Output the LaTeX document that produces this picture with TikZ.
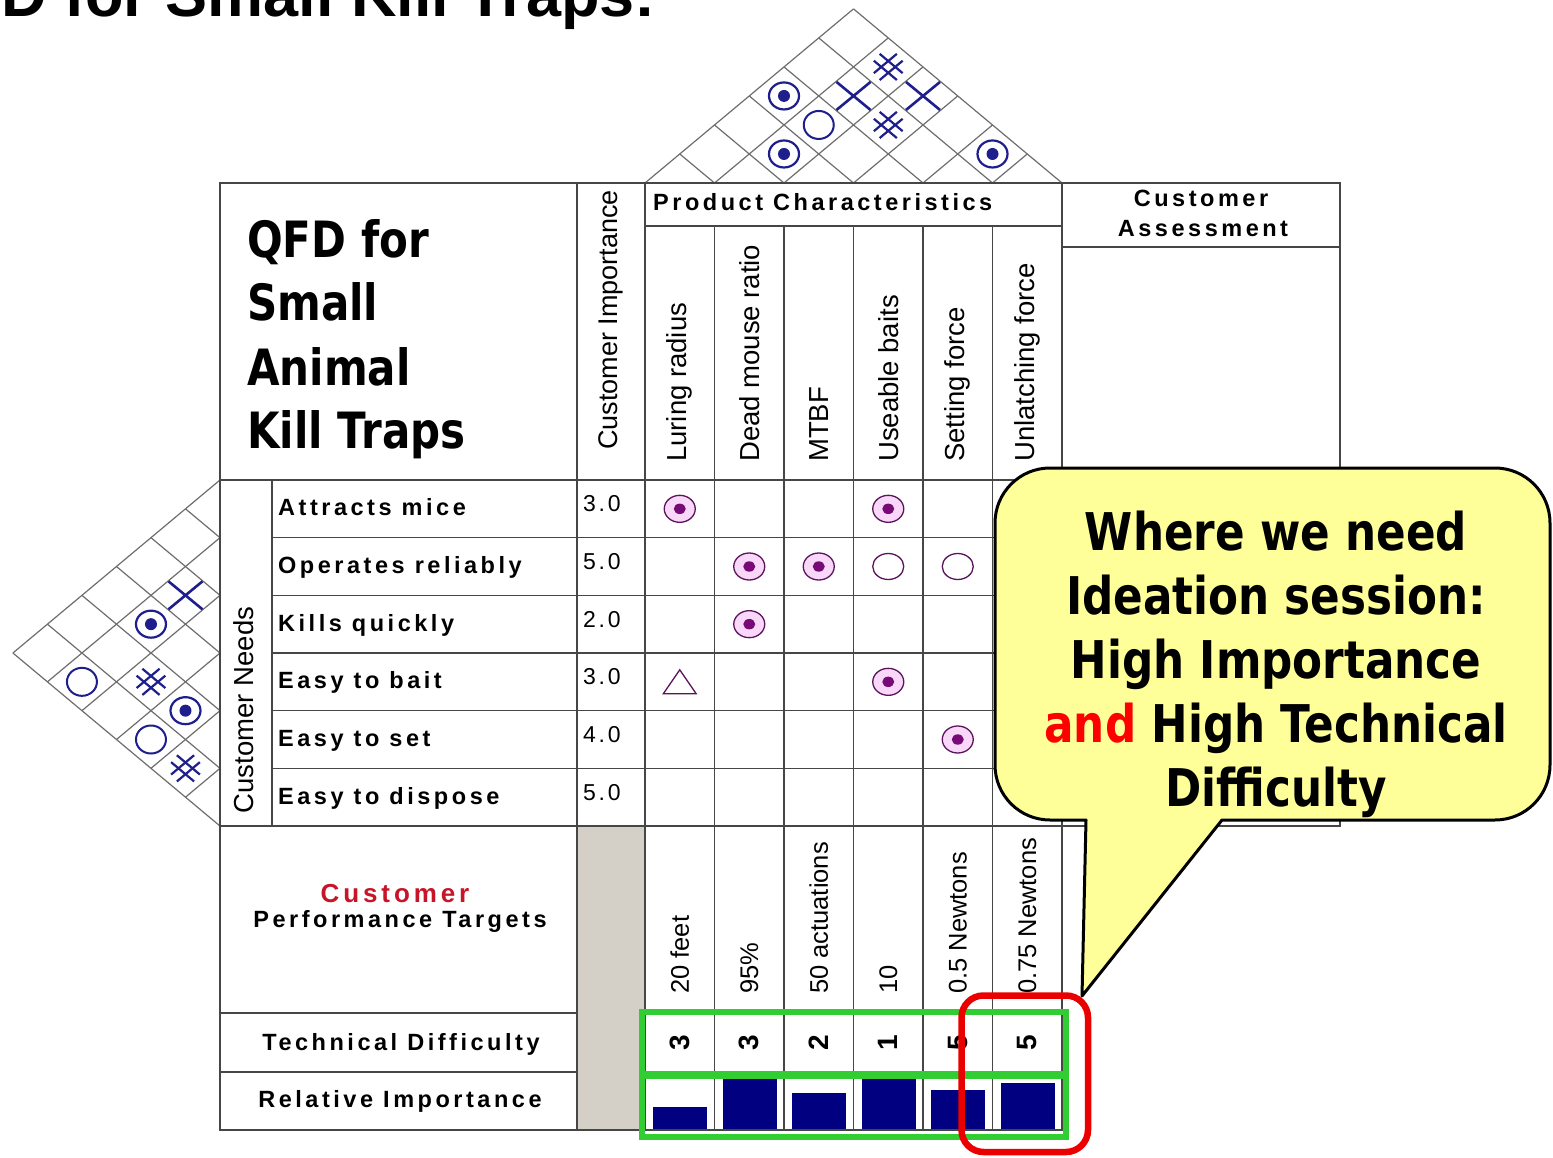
\documentclass[tikz,border=0pt]{standalone}
\usepackage{fontspec}
\setmainfont{Liberation Sans}
\newfontfamily\tah{DejaVu Sans}[FakeStretch=0.84]
\newfontfamily\spc{Liberation Sans}[LetterSpace=15]
\newfontfamily\spn{Liberation Sans}[LetterSpace=12]
\usetikzlibrary{calc}
\definecolor{navyS}{RGB}{30,30,140}
\definecolor{barN}{RGB}{0,0,128}
\definecolor{purpD}{RGB}{90,20,90}
\definecolor{purpF}{RGB}{120,10,120}
\definecolor{pinkF}{RGB}{248,215,248}
\definecolor{greyC}{RGB}{212,208,200}
\definecolor{callY}{RGB}{255,255,153}
\definecolor{grnB}{RGB}{50,205,50}
\definecolor{redB}{RGB}{235,0,0}
\definecolor{custR}{RGB}{200,20,40}
\definecolor{tblL}{RGB}{70,70,70}
\definecolor{gridL}{RGB}{110,110,110}
\newcommand\roofxy[2]{\pgfmathsetmacro\myPx{645+69.5*((#1+#2)/2-0.5)}\pgfmathsetmacro\myPy{183-69.5*(#2-#1)/2*0.835}}
\newcommand\wingxy[2]{\pgfmathsetmacro\myPy{480+57.667*((#1+#2)/2-0.5)}\pgfmathsetmacro\myPx{220-57.667*(#2-#1)/2*1.197}}
\newcommand\cellxy[2]{\pgfmathsetmacro\myPy{480+57.667*(#1-0.5)}\pgfmathsetmacro\myPx{645+69.5*(#2-0.5)}}
\begin{document}
\begin{tikzpicture}[x=1pt,y=-1pt,
  tl/.style={draw=tblL,line width=1.6pt},
  gl/.style={draw=gridL,line width=1.2pt},
  lbl/.style={inner sep=0pt,font=\fontsize{27.5}{30}\selectfont},
  tlbl/.style={inner sep=0pt,font=\fontsize{25.5}{28}\selectfont},
  bT/.style={inner sep=0pt,font=\fontsize{23.5}{26}\spc\bfseries},
  nT/.style={inner sep=0pt,font=\fontsize{23}{26}\spn},
  bigT/.style={inner sep=0pt,font=\fontsize{50}{56}\tah\bfseries},
  cT/.style={inner sep=0pt,font=\fontsize{52}{58}\tah\bfseries},
  rbull/.pic={\draw[navyS,line width=2.2pt] (0,0) ellipse[x radius=15pt,y radius=13.5pt]; \fill[navyS] (0,0) circle[radius=6pt];},
  rcirc/.pic={\draw[navyS,line width=2pt] (0,0) ellipse[x radius=15pt,y radius=14pt];},
  rx/.pic={\draw[navyS,line width=2.6pt] (-17pt,-14pt)--(17pt,14pt) (-17pt,14pt)--(17pt,-14pt);},
  rhash/.pic={\draw[navyS,line width=2.2pt,rotate=40] (-15pt,-4.5pt)--(15pt,-4.5pt) (-15pt,4.5pt)--(15pt,4.5pt);
              \draw[navyS,line width=2.2pt,rotate=-40] (-15pt,-4.5pt)--(15pt,-4.5pt) (-15pt,4.5pt)--(15pt,4.5pt);},
  mbull/.pic={\draw[purpD,fill=pinkF,line width=1.3pt] (0,0) ellipse[x radius=15.5pt,y radius=13.5pt]; \fill[purpF] (0,0) ellipse[x radius=6pt,y radius=5.2pt];},
  mcirc/.pic={\draw[purpD,fill=white,line width=1.3pt] (0,0) ellipse[x radius=15.5pt,y radius=13pt];},
  mtri/.pic={\draw[purpD,fill=white,line width=1.3pt] (0pt,12pt)--(-16.5pt,-12pt)--(16.5pt,-12pt)--cycle;}
]
\useasboundingbox (0,0) rectangle (1553,1158);
\clip (0,0) rectangle (1553,1158);
\fill[white] (0,0) rectangle (1553,1158);

% top title (cut off by the page edge as in the reference)
\node[anchor=base west,inner sep=0pt,font=\fontsize{63}{70}\selectfont\bfseries] (ttl) at (1,17) {D for Small Kill Traps:};

% roof grid
\foreach \k in {0,...,6} {
  \pgfmathsetmacro\bk{645+69.5*\k}
  \pgfmathsetmacro\xr{(\bk+1062)/2}
  \pgfmathsetmacro\yr{183-(1062-\bk)/2*0.835}
  \pgfmathsetmacro\xl{(645+\bk)/2}
  \pgfmathsetmacro\yl{183-(\bk-645)/2*0.835}
  \draw[gl] (\bk,183) -- (\xr,\yr);
  \draw[gl] (\bk,183) -- (\xl,\yl);
}
% wing grid
\foreach \k in {0,...,6} {
  \pgfmathsetmacro\rk{480+57.667*\k}
  \pgfmathsetmacro\xu{220-(\rk-480)/2*1.197}
  \pgfmathsetmacro\yu{(480+\rk)/2}
  \pgfmathsetmacro\xd{220-(826-\rk)/2*1.197}
  \pgfmathsetmacro\yd{(\rk+826)/2}
  \draw[gl] (220,\rk) -- (\xu,\yu);
  \draw[gl] (220,\rk) -- (\xd,\yd);
}

% roof symbols
\foreach \i/\j in {2/3,5/6,1/4} {\roofxy{\i}{\j}\pic at (\myPx,\myPy) {rbull};}
\foreach \i/\j in {2/4} {\roofxy{\i}{\j}\pic at (\myPx,\myPy) {rcirc};}
\foreach \i/\j in {2/5,3/6} {\roofxy{\i}{\j}\pic at (\myPx,\myPy) {rx};}
\foreach \i/\j in {2/6,3/5} {\roofxy{\i}{\j}\pic at (\myPx,\myPy) {rhash};}
% wing symbols
\foreach \i/\j in {4/5,2/4} {\wingxy{\i}{\j}\pic at (\myPx,\myPy) {rbull};}
\foreach \i/\j in {4/6,2/6} {\wingxy{\i}{\j}\pic at (\myPx,\myPy) {rcirc};}
\foreach \i/\j in {2/3} {\wingxy{\i}{\j}\pic at (\myPx,\myPy) {rx};}
\foreach \i/\j in {5/6,3/5} {\wingxy{\i}{\j}\pic at (\myPx,\myPy) {rhash};}

% table
\fill[greyC] (577,826) rectangle (645,1130);
\draw[tl] (220,183) rectangle (1062,1130);
\draw[tl] (577,183) -- (577,1130);
\draw[tl] (645,183) -- (645,1130);
\draw[tl] (645,226) -- (1062,226);
\foreach \k in {1,...,5} {\draw[tl] ({645+69.5*\k},226) -- ({645+69.5*\k},1130);}
\draw[tl] (220,480) -- (1062,480);
\draw[tl] (220,826) -- (1062,826);
\foreach \k in {1,...,5} {\draw[tl] (272,{480+57.667*\k}) -- (1062,{480+57.667*\k});}
\draw[tl] (272,480) -- (272,826);
\draw[tl] (220,1013) -- (577,1013);
\draw[tl] (645,1013) -- (1062,1013);
\draw[tl] (220,1072) -- (577,1072);
\draw[tl] (645,1072) -- (1062,1072);
\draw[tl] (1062,183) rectangle (1340,826);
\draw[tl] (1062,247) -- (1340,247);

% header texts
\foreach \t/\yy/\n in {QFD for/258/qa,Small/321/qb,Animal/385/qc,Kill Traps/448/qd}
  {\node[bigT,anchor=base west] (\n) at (247,\yy) {\t};}
\node[lbl,rotate=90,anchor=west,font=\fontsize{27}{30}\selectfont] (ci) at (611,450) {Customer Importance};
\node[bT,anchor=base west] (pc) at (653,211) {Product Characteristics};
\node[bT,anchor=base] (ca1) at (1201,207) {Customer};
\node[bT,anchor=base] (ca2) at (1203,237) {Assessment};
\foreach \k/\t in {1/Luring radius,2/Dead mouse ratio,3/MTBF,4/Useable baits,5/Setting force,6/Unlatching force}
  {\node[lbl,rotate=90,anchor=west] (h\k) at ({645+69.5*(\k-0.5)},462) {\t};}
\node[lbl,rotate=90] (cn) at (244,710) {Customer Needs};
\foreach \k/\t/\v in {1/Attracts mice/3.0,2/Operates reliably/5.0,3/Kills quickly/2.0,4/Easy to bait/3.0,5/Easy to set/4.0,6/Easy to dispose/5.0}
  {\node[bT,anchor=base west] (r\k) at (278,{480+57.667*(\k-0.5)+7}) {\t};
   \node[nT,anchor=base west] (v\k) at (583,{480+57.667*(\k-0.5)+3}) {\v};}

% relationship symbols
\foreach \r/\c in {1/1,1/4,2/2,2/3,3/2,4/4,5/5} {\cellxy{\r}{\c}\pic at (\myPx,\myPy) {mbull};}
\foreach \r/\c in {2/4,2/5} {\cellxy{\r}{\c}\pic at (\myPx,\myPy) {mcirc};}
\foreach \r/\c in {4/1} {\cellxy{\r}{\c}\pic at (\myPx,\myPy) {mtri};}

% bottom
\node[bT,anchor=base,text=custR,font=\fontsize{26}{28}\spc\bfseries] (cp1) at (395,902) {Customer};
\node[bT,anchor=base] (cp2) at (400,927) {Performance Targets};
\node[bT,anchor=base] (td) at (401,1050) {Technical Difficulty};
\node[bT,anchor=base] (ri) at (400,1107) {Relative Importance};
\foreach \k/\t in {1/20 feet,2/95\%,3/50 actuations,4/10,5/0.5 Newtons,6/0.75 Newtons}
  {\node[tlbl,rotate=90,anchor=west] (p\k) at ({645+69.5*(\k-0.5)},994) {\t};}
\foreach \k/\t in {1/3,2/3,3/2,4/1,5/5,6/5}
  {\node[rotate=90,inner sep=0pt,font=\fontsize{28}{30}\selectfont\bfseries] (d\k) at ({645+69.5*(\k-0.5)},1043) {\t};}
\foreach \k/\tp in {1/1107,2/1079,3/1093,4/1079,5/1090,6/1083}
  {\fill[barN] ({645+69.5*(\k-1)+8},\tp) rectangle ({645+69.5*\k-7.5},1129);}

% green highlight
\draw[grnB,line width=6pt] (642,1012) rectangle (1066,1136.5);
\draw[grnB,line width=8pt] (642,1075) -- (1066,1075);

% callout
\draw[fill=callY,line width=3pt,line join=round]
  (1050,468) -- (1495,468) .. controls (1525.4,468) and (1550,492.6) .. (1550,523)
  -- (1550,765) .. controls (1550,795.4) and (1525.4,820) .. (1495,820)
  -- (1222,820) -- (1082,996) -- (1086,820) -- (1050,820)
  .. controls (1019.6,820) and (995,795.4) .. (995,765)
  -- (995,523) .. controls (995,492.6) and (1019.6,468) .. (1050,468) -- cycle;
\node[cT,anchor=base] (c1) at (1276,550) {Where we need};
\node[cT,anchor=base] (c2) at (1276,614) {Ideation session:};
\node[cT,anchor=base] (c3) at (1276,678) {High Importance};
\node[cT,anchor=base] (c4) at (1276,742) {{\color{red}and} High Technical};
\node[cT,anchor=base] (c5) at (1276,806) {Difficulty};

% red highlight
\draw[redB,line width=6.5pt,rounded corners=22pt] (961.5,995.5) rectangle (1088,1152);
\end{tikzpicture}
\end{document}
